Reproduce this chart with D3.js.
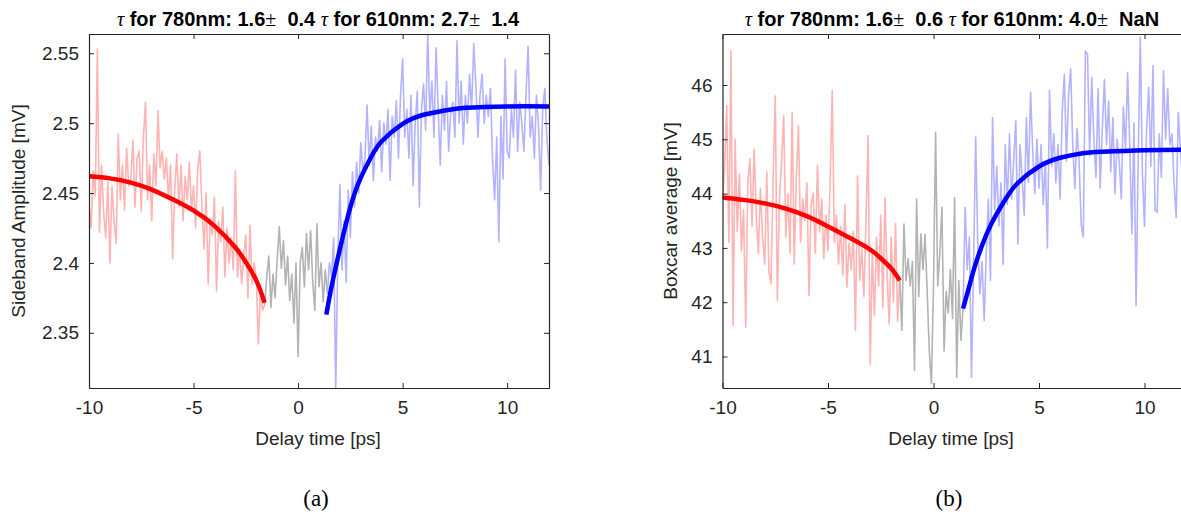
<!DOCTYPE html>
<html>
<head>
<meta charset="utf-8">
<script src="https://cdn.jsdelivr.net/npm/d3@7"></script>
<style>
  body { margin: 0; background: #fff; }
  svg { display: block; }
</style>
</head>
<body>
<div id="root"></div>
<script>
// Delay axis: samples every 0.1 ps starting at -10 ps
const tStart = -10;
const tStep = 0.1;
const redEnd = -1.6;   // last delay of the 780nm (red) segment
const blueStart = 1.4; // first delay of the 610nm (blue) segment

const ticksX = [-10, -5, 0, 5, 10];
const ticksYA = [2.35, 2.4, 2.45, 2.5, 2.55];
const ticksYB = [41, 42, 43, 44, 45, 46];

// (a) sideband amplitude [mV]
const sidebandAmp = [
  2.442, 2.425, 2.466, 2.448, 2.553, 2.422, 2.47, 2.436, 2.418, 2.458,
  2.40, 2.455, 2.43, 2.414, 2.492, 2.445, 2.47, 2.438, 2.482, 2.455,
  2.46, 2.488, 2.44, 2.475, 2.48, 2.437, 2.49, 2.515, 2.445, 2.47,
  2.43, 2.478, 2.455, 2.509, 2.468, 2.48, 2.46, 2.475, 2.445, 2.47,
  2.403, 2.452, 2.478, 2.44, 2.47, 2.43, 2.462, 2.445, 2.472, 2.438,
  2.455, 2.425, 2.468, 2.48, 2.44, 2.41, 2.45, 2.385, 2.432, 2.42,
  2.447, 2.38, 2.43, 2.415, 2.44, 2.39, 2.425, 2.40, 2.418, 2.395,
  2.466, 2.39, 2.41, 2.385, 2.405, 2.42, 2.375, 2.427, 2.385, 2.40,
  2.39, 2.342, 2.38, 2.366, 2.37,
  2.39, 2.405, 2.368, 2.392, 2.375, 2.402, 2.426, 2.396, 2.416, 2.384,
  2.405, 2.373, 2.392, 2.357, 2.40, 2.333, 2.40, 2.411, 2.383, 2.421,
  2.395, 2.423, 2.386, 2.366, 2.428, 2.383, 2.40, 2.372, 2.395,
  2.378, 2.40, 2.39, 2.418, 2.31, 2.405, 2.456, 2.395, 2.43, 2.386,
  2.452, 2.418, 2.465, 2.44, 2.472, 2.45, 2.486, 2.465, 2.475, 2.513,
  2.47, 2.498, 2.459, 2.49, 2.48, 2.502, 2.465, 2.50, 2.485, 2.51,
  2.459, 2.505, 2.49, 2.516, 2.475, 2.52, 2.546, 2.49, 2.51, 2.475,
  2.52, 2.455, 2.50, 2.523, 2.44, 2.51, 2.528, 2.495, 2.565, 2.505,
  2.53, 2.49, 2.554, 2.51, 2.47, 2.52, 2.495, 2.53, 2.48, 2.508,
  2.515, 2.49, 2.559, 2.50, 2.53, 2.485, 2.52, 2.50, 2.535, 2.51,
  2.557, 2.528, 2.49, 2.52, 2.535, 2.50, 2.52, 2.505, 2.525, 2.475,
  2.445, 2.49, 2.415, 2.505, 2.46, 2.546, 2.48, 2.475, 2.51, 2.49,
  2.538, 2.48, 2.515, 2.50, 2.48, 2.52, 2.555, 2.49, 2.505, 2.475,
  2.52, 2.498, 2.452, 2.51, 2.525, 2.488, 2.47
];

// (b) boxcar average [mV]
const boxcarAvg = [
  43.9, 44.5, 45.62, 43.1, 46.63, 41.57, 45.0, 43.3, 44.36, 42.95,
  43.7, 41.54, 44.2, 44.64, 43.4, 44.82, 43.6, 42.9, 44.1, 43.2,
  42.7, 44.4, 42.55, 42.34, 44.3, 45.8, 42.03, 43.9, 44.6, 45.44,
  43.2, 44.0, 42.9, 45.5, 42.7, 44.3, 45.25, 43.1, 43.9, 43.5,
  44.2, 42.12, 43.8, 44.0, 42.9, 44.52, 43.3, 43.9, 42.8, 43.6,
  42.95, 44.2, 45.9, 43.1, 43.6, 42.7, 43.4, 42.5, 43.8, 42.28,
  43.1, 42.6, 43.3, 41.48, 44.33, 42.4, 43.0, 42.1, 43.5, 45.07,
  40.86, 42.9, 41.75, 43.2, 42.3, 43.6, 41.9, 43.93, 42.5, 41.6,
  43.2, 42.0, 43.45, 41.65, 42.45,
  41.48, 43.44, 42.4, 42.8, 42.3, 42.75, 40.74, 43.9, 42.1, 43.26,
  42.6, 43.25, 42.2, 41.1, 40.5, 42.3, 45.13, 42.3, 42.9, 43.75,
  41.1, 42.2, 41.8, 42.6, 41.7, 43.93, 40.62, 42.4, 41.3,
  41.9, 43.75, 42.6, 43.2, 40.62, 42.75, 45.04, 43.0, 42.15, 42.75,
  41.66, 42.9, 43.9, 42.4, 45.4, 43.7, 44.5, 43.4, 44.2, 42.7,
  44.9, 43.8, 45.1, 43.9, 44.6, 45.34, 43.07, 44.9, 44.3, 43.6,
  45.4, 44.2, 45.87, 44.8, 44.0, 45.0, 44.1, 44.9, 43.8, 44.6,
  43.0, 45.9, 44.5, 45.1, 44.2, 44.9, 43.9, 45.5, 46.2, 44.6,
  45.8, 46.3, 44.9, 44.1, 45.2, 44.6, 43.44, 43.2, 46.63, 46.57,
  44.7, 46.14, 45.0, 44.3, 45.93, 44.1, 45.2, 46.1, 44.9, 45.7,
  44.4, 45.4, 44.0, 45.0, 44.6, 43.9, 45.6, 44.8, 46.23, 44.9,
  43.26, 45.3, 41.94, 44.6, 46.88, 44.4, 43.4, 45.2, 45.96, 44.5,
  46.36, 43.7, 43.66, 45.1, 44.3, 46.26, 45.0, 45.93, 44.9, 45.1,
  44.2, 43.56, 45.5, 44.8, 44.3, 45.2, 44.6
];

// exponential fits as [delay, value]
const fitRedA = [[-10, 2.462], [-9, 2.4605], [-8, 2.4575], [-7, 2.4525], [-6, 2.4455], [-5, 2.4375],
                 [-4, 2.4265], [-3, 2.411], [-2.5, 2.4005], [-2, 2.3875], [-1.6, 2.3715]];
const fitBlueA = [[1.35, 2.363], [1.6, 2.383], [2, 2.41], [2.5, 2.44], [3, 2.461], [3.5, 2.476],
                  [4, 2.487], [5, 2.4995], [6, 2.506], [7, 2.509], [8, 2.511], [10, 2.512], [12, 2.512]];
const fitRedB = [[-10, 43.93], [-9, 43.885], [-8, 43.82], [-7, 43.725], [-6, 43.585], [-5, 43.395],
                 [-4, 43.19], [-3, 42.97], [-2.5, 42.81], [-2, 42.62], [-1.6, 42.4]];
const fitBlueB = [[1.4, 41.88], [1.7, 42.3], [2, 42.71], [2.5, 43.24], [3, 43.63], [3.5, 43.95],
                  [4, 44.2], [5, 44.5], [6, 44.66], [7, 44.74], [8, 44.77], [10, 44.8], [12, 44.81]];

const svg = d3.select('#root').append('svg').attr('width', 1181).attr('height', 514);
const axisColor = '#262626';
const sans = '"Liberation Sans", Arial, sans-serif';
const serif = '"Liberation Serif", "DejaVu Serif", serif';

const renderPanel = (values, fitRed, fitBlue, yTicks, yDomain, box, labels) => {
    const xScale = d3.scaleLinear([-10, 12], [box.left, box.right]);
    const yScale = d3.scaleLinear(yDomain, [box.bottom, box.top]);
    const root = svg.append('g');

    root.append('clipPath').attr('id', labels.id)
        .append('rect')
        .attr('x', box.left).attr('y', box.top)
        .attr('width', box.right - box.left).attr('height', box.bottom - box.top);
    const plot = root.append('g').attr('clip-path', `url(#${labels.id})`);

    // Plot mark: raw traces split into the three delay ranges
    const points = values.map((v, i) => [tStart + i * tStep, v]);
    const eps = 1e-6;
    const segments = [
        { color: '#ffb3b3', pts: points.filter(d => d[0] <= redEnd + eps) },
        { color: '#b3b3b3', pts: points.filter(d => d[0] >= redEnd - eps && d[0] <= blueStart + eps) },
        { color: '#b3b3ff', pts: points.filter(d => d[0] >= blueStart - eps) }
    ];
    const line = d3.line().x(d => xScale(d[0])).y(d => yScale(d[1]));
    plot.selectAll('path.raw').data(segments)
        .join('path')
        .attr('class', 'raw')
        .attr('fill', 'none')
        .attr('stroke', d => d.color)
        .attr('stroke-width', 1.6)
        .attr('stroke-linejoin', 'round')
        .attr('d', d => line(d.pts));

    const fitLine = d3.line().curve(d3.curveNatural).x(d => xScale(d[0])).y(d => yScale(d[1]));
    plot.selectAll('path.fit').data([{ color: '#ff0000', pts: fitRed }, { color: '#0000ff', pts: fitBlue }])
        .join('path')
        .attr('class', 'fit')
        .attr('fill', 'none')
        .attr('stroke', d => d.color)
        .attr('stroke-width', 4.5)
        .attr('d', d => fitLine(d.pts));

    // Draw axis box with inward ticks on every side
    const styleAxis = g => {
        g.select('.domain').attr('stroke', axisColor).attr('stroke-width', 1.2);
        g.selectAll('.tick line').attr('stroke', axisColor).attr('stroke-width', 1);
        g.selectAll('.tick text').attr('fill', axisColor).attr('font-family', sans).attr('font-size', 19);
    };
    const plain = d => String(d); // hyphen minus, like the original
    root.append('g').attr('transform', `translate(0, ${box.bottom})`)
        .call(d3.axisBottom(xScale).tickValues(ticksX).tickSize(-5).tickSizeOuter(0).tickPadding(13).tickFormat(plain))
        .call(styleAxis);
    root.append('g').attr('transform', `translate(0, ${box.top})`)
        .call(d3.axisTop(xScale).tickValues(ticksX).tickSize(-5).tickSizeOuter(0).tickFormat(''))
        .call(styleAxis);
    root.append('g').attr('transform', `translate(${box.left}, 0)`)
        .call(d3.axisLeft(yScale).tickValues(yTicks).tickSize(-5).tickSizeOuter(0).tickPadding(10).tickFormat(plain))
        .call(styleAxis);
    root.append('g').attr('transform', `translate(${box.right}, 0)`)
        .call(d3.axisRight(yScale).tickValues(yTicks).tickSize(-5).tickSizeOuter(0).tickFormat(''))
        .call(styleAxis);

    // Labels
    root.append('text')
        .attr('x', labels.xLabelX).attr('y', 445)
        .attr('text-anchor', 'middle')
        .attr('font-family', sans).attr('font-size', 19).attr('fill', axisColor)
        .text('Delay time [ps]');
    root.append('text')
        .attr('transform', `translate(${labels.yLabelX}, ${(box.top + box.bottom) / 2}) rotate(-90)`)
        .attr('text-anchor', 'middle')
        .attr('font-family', sans).attr('font-size', 19).attr('fill', axisColor)
        .text(labels.yLabel);

    const title = root.append('text')
        .attr('x', labels.titleX).attr('y', 26)
        .attr('text-anchor', 'middle')
        .style('white-space', 'pre')
        .attr('font-family', sans).attr('font-size', 20).attr('font-weight', 'bold').attr('fill', '#000');
    labels.title.forEach(([head, pm, tail]) => {
        title.append('tspan').attr('font-family', serif).attr('font-style', 'italic')
            .attr('font-weight', 'normal').text('τ');
        title.append('tspan').text(head);
        title.append('tspan').attr('font-family', serif).attr('font-weight', 'normal').text('±');
        title.append('tspan').text(tail);
        void pm;
    });

    root.append('text')
        .attr('x', labels.tagX).attr('y', 506)
        .attr('text-anchor', 'middle')
        .attr('font-family', serif).attr('font-size', 23).attr('fill', '#000')
        .text(labels.tag);
};

renderPanel(sidebandAmp, fitRedA, fitBlueA, ticksYA, [2.3105, 2.5638],
    { left: 89, right: 549, top: 34, bottom: 388 },
    { id: 'clipA', yLabel: 'Sideband Amplitude [mV]', yLabelX: 25, xLabelX: 318, titleX: 318, tagX: 316, tag: '(a)',
      title: [[' for 780nm: 1.6', '±', '  0.4 '], [' for 610nm: 2.7', '±', '  1.4']] });

renderPanel(boxcarAvg, fitRedB, fitBlueB, ticksYB, [40.42, 46.94],
    { left: 722.5, right: 1186.7, top: 34, bottom: 388 },
    { id: 'clipB', yLabel: 'Boxcar average [mV]', yLabelX: 677, xLabelX: 951, titleX: 952, tagX: 949, tag: '(b)',
      title: [[' for 780nm: 1.6', '±', '  0.6 '], [' for 610nm: 4.0', '±', '  NaN']] });
</script>
</body>
</html>
